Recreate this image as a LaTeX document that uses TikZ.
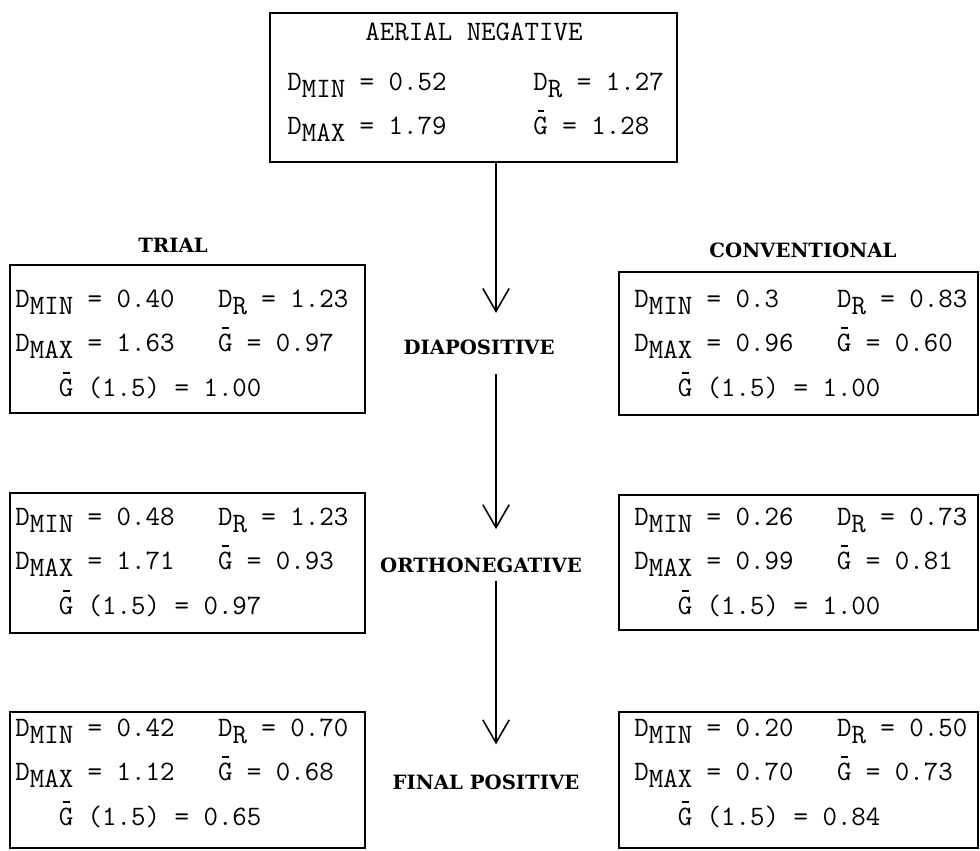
\documentclass[tikz,border=0pt]{standalone}
\usepackage{fontspec}
\newfontfamily\headfont{DejaVu Serif}
\usepackage{tikz}
\usetikzlibrary{arrows.meta, fit}

\newcommand{\lowr}[1]{\raisebox{-4pt}{#1}}
\newcommand{\Gbar}{\rlap{\hspace{0.15em}\rule[0.8em]{0.24em}{0.08em}}G}
\renewcommand{\arraystretch}{1.5}

\tikzset{
  frame/.style={draw, line width=0.9pt, inner sep=0pt},
  vals/.style={anchor=base west, inner sep=0pt, font=\ttfamily\fontsize{16pt}{17pt}\selectfont},
  stage/.style={inner sep=0pt, font=\headfont\bfseries\fontsize{11.2pt}{13pt}\selectfont},
  flow/.style={line width=0.9pt, -{Straight Barb[length=13pt,width=15pt]}}
}

\begin{document}
\begin{tikzpicture}[x=0.02cm, y=-0.02cm]
  \useasboundingbox (0,0) rectangle (980,850);
  \coordinate (spine) at (496,0);

  % aerial negative
  \node[frame, fit={(270,13) (677,162)}] (neg) {};
  \node[vals, anchor=base] (negtitle) at (474,40) {AERIAL NEGATIVE};
  \node[vals] (negvals) at (287,90) {\begin{tabular}[t]{@{}l@{}}
      D\lowr{MIN} = 0.52~~~~~~D\lowr{R} = 1.27 \\
      D\lowr{MAX} = 1.79~~~~~~\Gbar{} = 1.28
    \end{tabular}};

  % stages
  \node[stage] (trial) at (173,245) {TRIAL};
  \node[stage] (conv) at (803,250) {CONVENTIONAL};
  \node[stage] (dia) at (479,347) {DIAPOSITIVE};
  \node[stage] (ortho) at (481,565) {ORTHONEGATIVE};
  \node[stage] (final) at (486,782) {FINAL POSITIVE};

  \draw[flow, shorten >=15pt] (neg.south -| spine) -- (dia.north -| spine);
  \draw[flow, shorten <=11pt, shorten >=16pt] (dia.south -| spine) -- (ortho.north -| spine);
  \draw[flow, shorten <=4.5pt, shorten >=17pt] (ortho.south -| spine) -- (final.north -| spine);

  % trial column
  \node[frame, fit={(10,265) (365,413)}] (trialdia) {};
  \node[vals] (trialdiavals) at (15,307) {\begin{tabular}[t]{@{}l@{}}
      D\lowr{MIN} = 0.40~~~D\lowr{R} = 1.23 \\
      D\lowr{MAX} = 1.63~~~\Gbar{} = 0.97 \\
      ~~~\Gbar{} (1.5) = 1.00
    \end{tabular}};
  \node[frame, fit={(10,493) (365,633)}] (trialortho) {};
  \node[vals] (trialorthovals) at (15,525) {\begin{tabular}[t]{@{}l@{}}
      D\lowr{MIN} = 0.48~~~D\lowr{R} = 1.23 \\
      D\lowr{MAX} = 1.71~~~\Gbar{} = 0.93 \\
      ~~~\Gbar{} (1.5) = 0.97
    \end{tabular}};
  \node[frame, fit={(10,712) (365,848)}] (trialfinal) {};
  \node[vals] (trialfinalvals) at (15,736) {\begin{tabular}[t]{@{}l@{}}
      D\lowr{MIN} = 0.42~~~D\lowr{R} = 0.70 \\
      D\lowr{MAX} = 1.12~~~\Gbar{} = 0.68 \\
      ~~~\Gbar{} (1.5) = 0.65
    \end{tabular}};

  % conventional column
  \node[frame, fit={(619,272) (978,415)}] (convdia) {};
  \node[vals] (convdiavals) at (634,307) {\begin{tabular}[t]{@{}l@{}}
      D\lowr{MIN} = 0.3~~~~D\lowr{R} = 0.83 \\
      D\lowr{MAX} = 0.96~~~\Gbar{} = 0.60 \\
      ~~~\Gbar{} (1.5) = 1.00
    \end{tabular}};
  \node[frame, fit={(619,495) (978,630)}] (convortho) {};
  \node[vals] (convorthovals) at (634,525) {\begin{tabular}[t]{@{}l@{}}
      D\lowr{MIN} = 0.26~~~D\lowr{R} = 0.73 \\
      D\lowr{MAX} = 0.99~~~\Gbar{} = 0.81 \\
      ~~~\Gbar{} (1.5) = 1.00
    \end{tabular}};
  \node[frame, fit={(619,712) (978,848)}] (convfinal) {};
  \node[vals] (convfinalvals) at (634,736) {\begin{tabular}[t]{@{}l@{}}
      D\lowr{MIN} = 0.20~~~D\lowr{R} = 0.50 \\
      D\lowr{MAX} = 0.70~~~\Gbar{} = 0.73 \\
      ~~~\Gbar{} (1.5) = 0.84
    \end{tabular}};
\end{tikzpicture}
\end{document}
